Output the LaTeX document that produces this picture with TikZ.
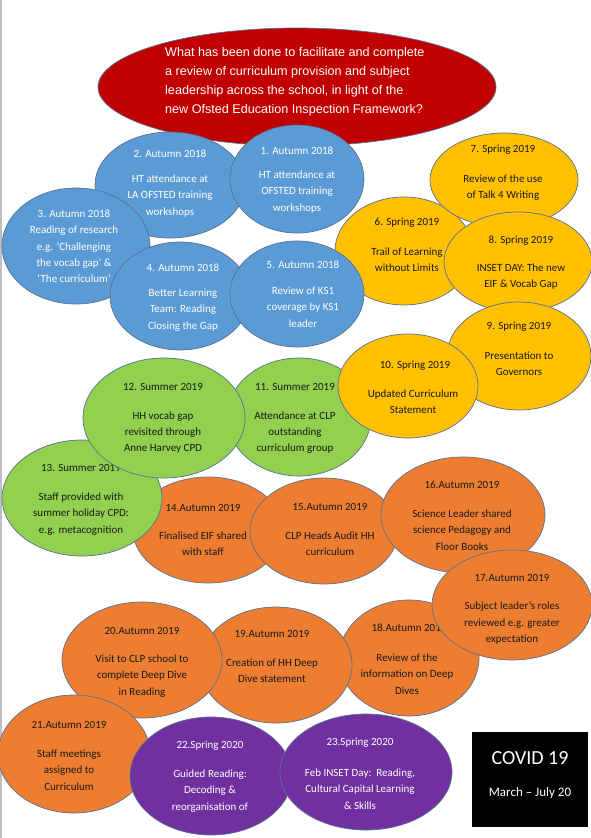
\documentclass[tikz,border=0pt]{standalone}
\usepackage{fontspec}
\setmainfont{Carlito}
\newfontfamily\titlefont{Liberation Sans}
\usetikzlibrary{shapes.geometric}
\definecolor{cblue}{HTML}{5B9BD5}
\definecolor{cred}{HTML}{C00000}
\definecolor{cyel}{HTML}{FFC000}
\definecolor{cgrn}{HTML}{92D050}
\definecolor{corg}{HTML}{ED7D31}
\definecolor{cpur}{HTML}{7030A0}
\definecolor{outl}{HTML}{5A7090}
\tikzset{
  ell/.style={ellipse, draw=outl, line width=0.7pt, inner sep=0pt, outer sep=0pt},
  txt/.style={align=center, inner sep=0pt, font=\fontsize{11}{16.3}\selectfont},
  wt/.style={txt, text=white},
  bt/.style={txt, text=black!90},
}
\newcommand\ovl[6]{\node[ell, fill=#6, minimum width=#4pt, minimum height=#5pt] (#1) at (#2,#3) {};}
\begin{document}
\begin{tikzpicture}[x=1pt,y=-1pt]
\useasboundingbox (0,0) rectangle (591,838);
\fill[white] (0,0) rectangle (591,838);
\draw[black!25, line width=1.5pt] (0.75,0) -- (0.75,838);
% title
\ovl{e0}{297}{87}{398}{118}{cred}
\node[align=left, inner sep=0pt, text=white, font=\titlefont\fontsize{12.6}{19}\selectfont, anchor=west] (t0) at (165,81.5)
 {What has been done to facilitate and complete\\a review of curriculum provision and subject\\leadership across the school, in light of the\\new Ofsted Education Inspection Framework?};
% 14
\ovl{e14}{208}{530}{150}{106}{corg}
\node[bt] (h14) at (203,508) {14.Autumn 2019};
\node[bt] (b14) at (203,544) {Finalised EIF shared\\with staff};
% 13
\ovl{e13}{82}{498}{160}{116}{cgrn}
\node[bt] (h13) at (81,468) {13. Summer 2019};
\node[bt] (b13) at (81,514) {Staff provided with\\summer holiday CPD:\\e.g. metacognition};
% 11
\ovl{e11}{299}{417}{144}{118}{cgrn}
\node[bt] (h11) at (295,387) {11. Summer 2019};
\node[bt] (b11) at (295,432.5) {Attendance at CLP\\outstanding\\curriculum group};
% 12
\ovl{e12}{164}{418}{162}{120}{cgrn}
\node[bt] (h12) at (163,387) {12. Summer 2019};
\node[bt] (b12) at (163,432.5) {HH vocab gap\\revisited through\\Anne Harvey CPD};
% 6
\ovl{e6}{404}{251}{138}{108}{cyel}
\node[bt] (h6) at (407,223) {6. Spring 2019};
\node[bt] (b6) at (407,260) {Trail of Learning\\without Limits};
% 2
\ovl{e2}{170}{185}{150}{106}{cblue}
\node[wt] (h2) at (170,154) {2. Autumn 2018};
\node[wt] (b2) at (170,196) {HT attendance at\\LA OFSTED training\\workshops};
% 3
\ovl{e3}{76}{246}{148}{116}{cblue}
\node[wt] (b3) at (74,246.5) {3. Autumn 2018\\Reading of research\\e.g. ‘Challenging\\the vocab gap’ \&\\‘The curriculum’};
% 4
\ovl{e4}{180}{296}{140}{108}{cblue}
\node[wt] (h4) at (183,268) {4. Autumn 2018};
\node[wt] (b4) at (183,310) {Better Learning\\Team: Reading\\Closing the Gap};
% 1
\ovl{e1}{297}{179}{134}{108}{cblue}
\node[wt] (h1) at (297,151) {1. Autumn 2018};
\node[wt] (b1) at (297,192) {HT attendance at\\OFSTED training\\workshops};
% 5
\ovl{e5}{297}{294}{134}{106}{cblue}
\node[wt] (h5) at (303,265) {5. Autumn 2018};
\node[wt] (b5) at (303,307) {Review of KS1\\coverage by KS1\\leader};
% 7
\ovl{e7}{504}{180}{148}{94}{cyel}
\node[bt] (h7) at (503,150) {7. Spring 2019};
\node[bt] (b7) at (503,187.5) {Review of the use\\of Talk 4 Writing};
% 8
\ovl{e8}{518}{262}{148}{100}{cyel}
\node[bt] (h8) at (521,241) {8. Spring 2019};
\node[bt] (b8) at (521,276.5) {INSET DAY: The new\\EIF \& Vocab Gap};
% 9
\ovl{e9}{519}{356}{144}{108}{cyel}
\node[bt] (h9) at (519,327) {9. Spring 2019};
\node[bt] (b9) at (519,364) {Presentation to\\Governors};
% 10
\ovl{e10}{408}{386}{140}{104}{cyel}
\node[bt] (h10) at (415,366) {10. Spring 2019};
\node[bt] (b10) at (413,402) {Updated Curriculum\\Statement};
% 15
\ovl{e15}{324}{531}{148}{106}{corg}
\node[bt] (h15) at (330,507) {15.Autumn 2019};
\node[bt] (b15) at (330,544) {CLP Heads Audit HH\\curriculum};
% 16
\ovl{e16}{463}{515}{164}{116}{corg}
\node[bt] (h16) at (462,485) {16.Autumn 2019};
\node[bt] (b16) at (462,530) {Science Leader shared\\science Pedagogy and\\Floor Books};
% 18
\ovl{e18}{409}{658}{140}{116}{corg}
\node[bt] (h18) at (409,628) {18.Autumn 2019};
\node[bt] (b18) at (407,674) {Review of the\\information on Deep\\Dives};
% 17
\ovl{e17}{512}{605}{160}{110}{corg}
\node[bt] (h17) at (512,578) {17.Autumn 2019};
\node[bt] (b17) at (512,623) {Subject leader’s roles\\reviewed e.g. greater\\expectation};
% 19
\ovl{e19}{276}{665}{152}{116}{corg}
\node[bt] (h19) at (272,634) {19.Autumn 2019};
\node[bt] (b19) at (272,670.5) {Creation of HH Deep\\Dive statement};
% 20
\ovl{e20}{142}{660}{160}{116}{corg}
\node[bt] (h20) at (142,631) {20.Autumn 2019};
\node[bt] (b20) at (142,676) {Visit to CLP school to\\complete Deep Dive\\in Reading};
% 21
\ovl{e21}{74}{754}{152}{118}{corg}
\node[bt] (h21) at (69,725) {21.Autumn 2019};
\node[bt] (b21) at (69,770) {Staff meetings\\assigned to\\Curriculum};
% 22
\ovl{e22}{211}{776}{162}{118}{cpur}
\node[wt] (h22) at (210,746) {22.Spring 2020};
\node[wt] (b22) at (210,791) {Guided Reading:\\Decoding \&\\reorganisation of};
% 23
\ovl{e23}{366}{772}{172}{116}{cpur}
\node[wt] (h23) at (360,743) {23.Spring 2020};
\node[wt] (b23) at (360,789) {Feb INSET Day:\ \ Reading,\\Cultural Capital Learning\\\& Skills};
% COVID box
\node[fill=black, minimum width=116pt, minimum height=95pt, inner sep=0pt] (cov) at (530,779.5) {};
\node[text=white, inner sep=0pt, font=\fontsize{20}{24}\selectfont] (cov1) at (530,758) {COVID 19};
\node[text=white, inner sep=0pt, font=\fontsize{13}{16}\selectfont] (cov2) at (530,793) {March – July 20};
\end{tikzpicture}
\end{document}
